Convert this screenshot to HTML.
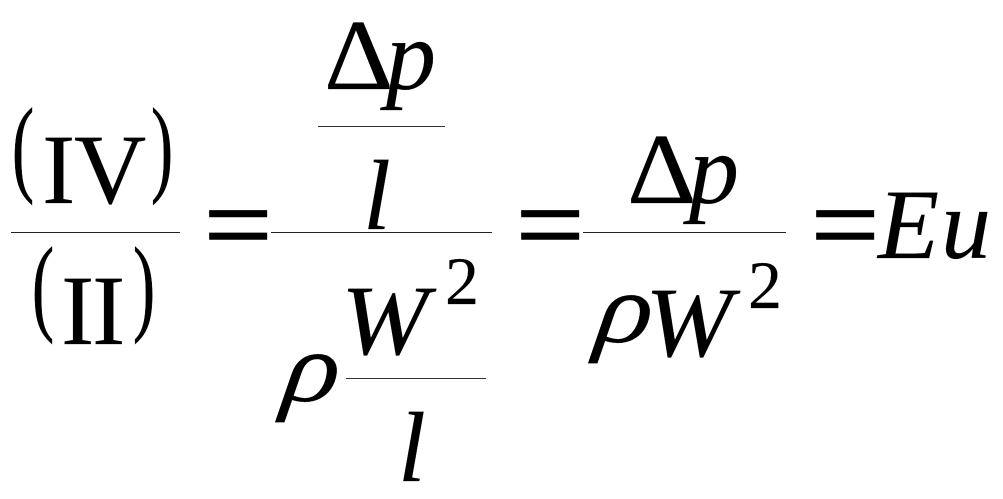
<!DOCTYPE html>
<html><head><meta charset="utf-8"><style>
html,body{margin:0;padding:0;background:#fff;width:1003px;height:499px;overflow:hidden}
svg{display:block}
text{font-family:"Liberation Serif",serif;fill:#000;stroke:#000;stroke-width:.2}
.i{font-style:italic}
.e{stroke-width:1.6}
.b{stroke-width:.7}
</style></head><body>
<svg width="1003" height="499" viewBox="0 0 1003 499" xmlns="http://www.w3.org/2000/svg">
<rect width="1003" height="499" fill="#fff"/>
<!-- left fraction -->
<text class="b" transform="translate(12,182) scale(.62,1)" font-size="107">(</text>
<text x="42" y="203" font-size="100">I</text>
<text x="74" y="203" font-size="100">V</text>
<text class="b" transform="translate(151,182) scale(.62,1)" font-size="107">)</text>
<rect x="11" y="232" width="169" height="1" fill="#222"/>
<text class="b" transform="translate(32,321) scale(.62,1)" font-size="107">(</text>
<text x="61" y="344" font-size="100">I</text>
<text x="92" y="344" font-size="100">I</text>
<text class="b" transform="translate(133,321) scale(.62,1)" font-size="107">)</text>
<!-- equals -->
<text class="e" transform="translate(204,262.5) scale(1.08,1)" font-size="112">=</text>
<text class="e" transform="translate(516,262.5) scale(1.08,1)" font-size="112">=</text>
<text class="e" transform="translate(811,262.5) scale(1.08,1)" font-size="112">=</text>
<!-- middle compound fraction -->
<text transform="translate(324,89) scale(1.07,1)" font-size="101">Δ</text>
<text x="386" y="89" font-size="100" class="i">p</text>
<rect x="318" y="126" width="127" height="1" fill="#333"/>
<text x="363" y="229" font-size="100" class="i">l</text>
<rect x="271" y="232" width="221" height="1" fill="#222"/>
<text transform="translate(281,401) skewX(-8) scale(1.15,1)" font-size="100" class="i">ρ</text>
<text transform="translate(341,354) scale(1.05,1)" font-size="100" class="i">W</text>
<text x="445" y="304" font-size="68">2</text>
<rect x="346" y="378" width="140" height="1" fill="#333"/>
<text x="398" y="481" font-size="100" class="i">l</text>
<!-- right fraction -->
<text transform="translate(627,203) scale(1.07,1)" font-size="101">Δ</text>
<text x="689" y="203" font-size="100" class="i">p</text>
<rect x="583" y="232" width="203" height="1" fill="#222"/>
<text transform="translate(594,342) skewX(-8) scale(1.15,1)" font-size="100" class="i">ρ</text>
<text transform="translate(645,356) scale(1.05,1)" font-size="100" class="i">W</text>
<text x="748" y="308" font-size="68">2</text>
<!-- Eu -->
<text x="878" y="258" font-size="100" class="i">E</text>
<text x="941" y="258" font-size="100" class="i">u</text>
</svg>
</body></html>
